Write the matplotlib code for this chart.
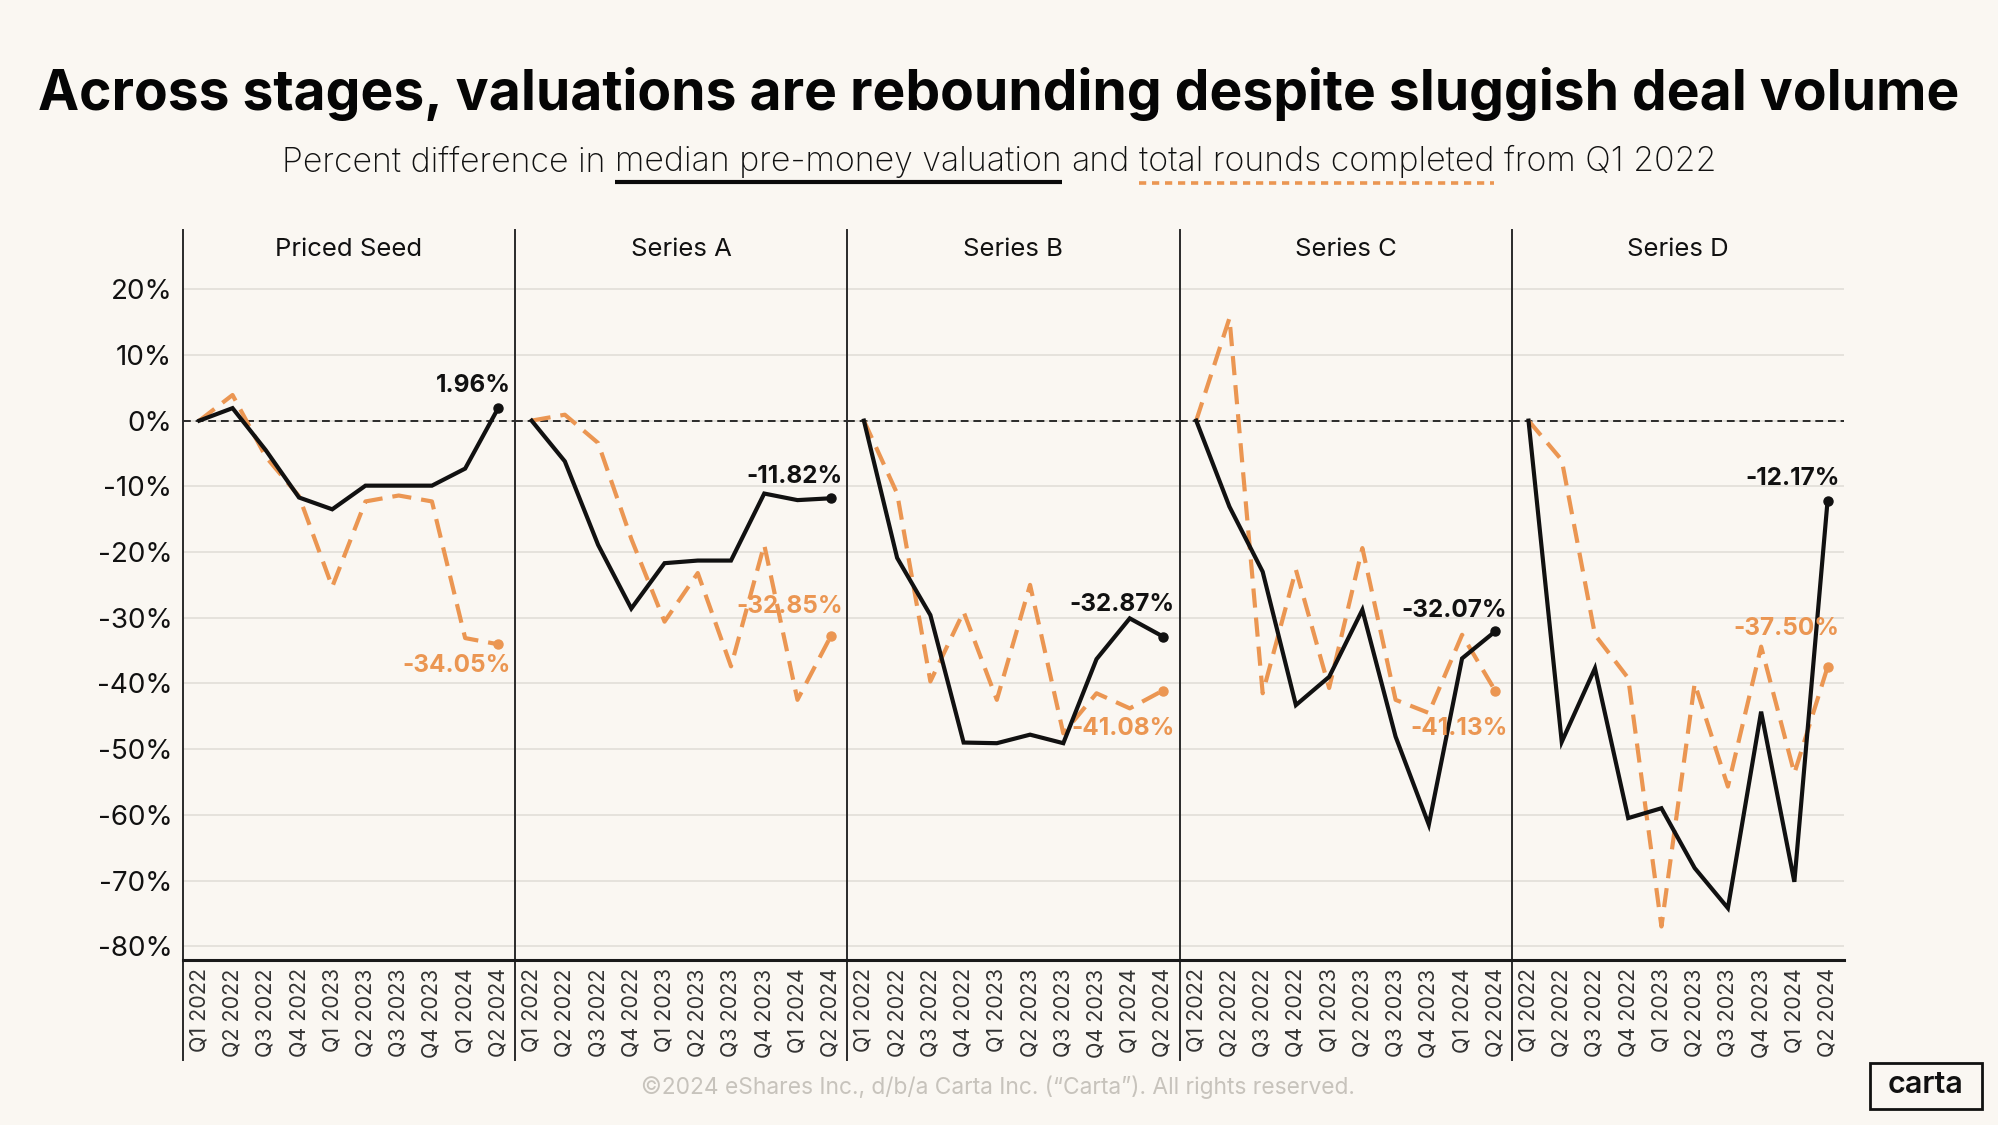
import matplotlib
matplotlib.use("Agg")
import matplotlib.pyplot as plt
from matplotlib.lines import Line2D
from matplotlib.patches import Rectangle

# ---------------- data ----------------
quarters = ["Q1 2022", "Q2 2022", "Q3 2022", "Q4 2022", "Q1 2023",
            "Q2 2023", "Q3 2023", "Q4 2023", "Q1 2024", "Q2 2024"]
stages = ["Priced Seed", "Series A", "Series B", "Series C", "Series D"]

seed_valuation = [0, 1.9, -4.5, -11.7, -13.5, -9.9, -9.9, -9.9, -7.3, 1.96]
seed_rounds = [0, 3.9, -5.5, -11.5, -25.3, -12.3, -11.4, -12.3, -33.1, -34.05]
a_valuation = [0, -6.2, -18.9, -28.6, -21.7, -21.3, -21.3, -11.1, -12.1, -11.82]
a_rounds = [0, 0.9, -3.4, -18.0, -30.6, -23.2, -37.4, -18.9, -42.5, -32.85]
b_valuation = [0, -20.9, -29.6, -49.0, -49.1, -47.8, -49.1, -36.3, -30.1, -32.87]
b_rounds = [0, -11.1, -39.7, -29.1, -42.5, -25.0, -47.6, -41.5, -43.8, -41.08]
c_valuation = [0, -13.1, -23.0, -43.3, -39.0, -28.8, -48.1, -61.5, -36.2, -32.07]
c_rounds = [0, 15.6, -41.5, -22.7, -40.7, -19.4, -42.5, -44.5, -32.6, -41.13]
d_valuation = [0, -48.9, -37.7, -60.5, -59.0, -68.1, -74.2, -44.3, -70.2, -12.17]
d_rounds = [0, -6.0, -32.6, -39.2, -77.0, -40.0, -55.7, -34.4, -53.7, -37.50]

y_ticks = [20, 10, 0, -10, -20, -30, -40, -50, -60, -70, -80]

valuations = [seed_valuation, a_valuation, b_valuation, c_valuation, d_valuation]
rounds = [seed_rounds, a_rounds, b_rounds, c_rounds, d_rounds]

# label offsets (pixels: center dy up) for end labels
val_label_dy = [22, 22, 32, 21, 22]
rnd_label_dy = [-21, 30, -38, -38, 38]

# ---------------- style ----------------
BG = "#FAF7F2"
ORANGE = "#EB9652"
BLACK = "#111111"
FONT = ["Inter", "DejaVu Sans"]
plt.rcParams["font.family"] = FONT

W, H = 1999, 1125
fig = plt.figure(figsize=(W / 100, H / 100), dpi=100, facecolor=BG)


def fx(px):
    return px / W


def fy(py):
    return 1 - py / H


PX = 0.72  # points per pixel

left0, pw, top, bottom = 182.7, 332.3, 282, 960
ylo, yhi = -82.1, 21.1

for i, stage in enumerate(stages):
    ax = fig.add_axes([fx(left0 + i * pw), fy(bottom), pw / W, (bottom - top) / H])
    ax.set_facecolor(BG)
    ax.set_xlim(-0.5, len(quarters) - 0.5)
    ax.set_ylim(ylo, yhi)
    for s in ax.spines.values():
        s.set_visible(False)
    ax.set_yticks(y_ticks)
    ax.yaxis.grid(True, color="#E3E0DA", lw=1.3)
    ax.set_axisbelow(True)
    ax.axhline(0, color="#2A2A2A", lw=1.4, ls=(0, (4, 2.5)), zorder=1.5)
    if i == 0:
        ax.set_yticklabels([f"{v}%" for v in y_ticks], fontsize=20, color=BLACK)
        ax.tick_params(axis="y", length=0, pad=7.5)
    else:
        ax.tick_params(axis="y", length=0, labelleft=False)
    xs = list(range(len(quarters)))
    ax.set_xticks(xs)
    ax.set_xticklabels(quarters, rotation=90, fontsize=15.5, color="#333333")
    ax.tick_params(axis="x", length=0, pad=6)

    r = rounds[i]
    v = valuations[i]
    ax.plot(xs, r, color=ORANGE, lw=3.0, ls=(0, (4.6, 2.4)), zorder=3,
            dash_capstyle="butt")
    ax.plot(xs[-1], r[-1], "o", color=ORANGE, ms=6.5, zorder=3)
    ax.plot(xs, v, color=BLACK, lw=3.0, zorder=4, solid_joinstyle="miter")
    ax.plot(xs[-1], v[-1], "o", color=BLACK, ms=6.5, zorder=4)

    ax.annotate(f"{v[-1]:.2f}%", (xs[-1], v[-1]), xytext=(12 * PX, val_label_dy[i] * PX),
                textcoords="offset points", ha="right", va="center",
                fontsize=17.5, fontweight="bold", color=BLACK, zorder=5)
    ax.annotate(f"{r[-1]:.2f}%", (xs[-1], r[-1]), xytext=(12 * PX, rnd_label_dy[i] * PX),
                textcoords="offset points", ha="right", va="center",
                fontsize=17.5, fontweight="bold", color=ORANGE, zorder=5)

    fig.text(fx(left0 + (i + 0.5) * pw), fy(250), stage, ha="center", va="center",
             fontsize=18.5, color=BLACK)

# panel dividers and bottom axis
for i in range(5):
    x = fx(left0 + i * pw)
    fig.add_artist(Line2D([x, x], [fy(230), fy(1060)], color="#2A2A2A", lw=1.4))
fig.add_artist(Line2D([fx(left0), fx(left0 + 5 * pw)], [fy(bottom), fy(bottom)],
                      color="#1A1A1A", lw=2.2))

# ---------------- titles ----------------
fig.canvas.draw()
rend = fig.canvas.get_renderer()


def text_width(s, **kw):
    t = fig.text(0, 0, s, **kw)
    w = t.get_window_extent(rend).width
    t.remove()
    return w


title = "Across stages, valuations are rebounding despite sluggish deal volume"
tkw = dict(fontweight="bold")
base = 40
tw = text_width(title, fontsize=base, **tkw)
tsize = base * 1922 / tw
fig.text(fx(999), fy(110), title, ha="center", va="baseline", fontsize=tsize,
         color="#050505", **tkw)

pieces = ["Percent difference in", "median pre-money valuation", "and",
          "total rounds completed", "from Q1 2022"]
skw = dict(fontweight="light")
base = 20
full = " ".join(pieces)
sw = text_width(full, fontsize=base, **skw)
ssize = base * 1432 / sw
space = text_width("a a", fontsize=ssize, **skw) - text_width("aa", fontsize=ssize, **skw)
widths = [text_width(p, fontsize=ssize, **skw) for p in pieces]
total = sum(widths) + space * (len(pieces) - 1)
x = 999 - total / 2
starts = []
for p, w in zip(pieces, widths):
    fig.text(fx(x), fy(171.5), p, ha="left", va="baseline", fontsize=ssize,
             color="#111111", **skw)
    starts.append((x, w))
    x += w + space

ux, uw = starts[1]
fig.add_artist(Line2D([fx(ux), fx(ux + uw)], [fy(182), fy(182)], color="#0A0A0A",
                      lw=3.0, solid_capstyle="butt"))
ux, uw = starts[3]
fig.add_artist(Line2D([fx(ux), fx(ux + uw)], [fy(183), fy(183)], color=ORANGE,
                      lw=2.6, ls=(0, (2.0, 1.6)), dash_capstyle="butt"))

# footer
fig.text(fx(998), fy(1087), "©2024 eShares Inc., d/b/a Carta Inc. (“Carta”). All rights reserved.",
         ha="center", va="center", fontsize=16.4, color="#C7C3BC")

# carta logo
fig.add_artist(Rectangle((fx(1870), fy(1109)), fx(112), 46 / H, fill=False,
                         edgecolor="#111111", lw=2.0))
fig.text(fx(1926), fy(1085), "carta", ha="center", va="center", fontsize=22,
         fontweight="semibold", color="#111111")

fig.savefig("out.png", dpi=100, facecolor=BG)
